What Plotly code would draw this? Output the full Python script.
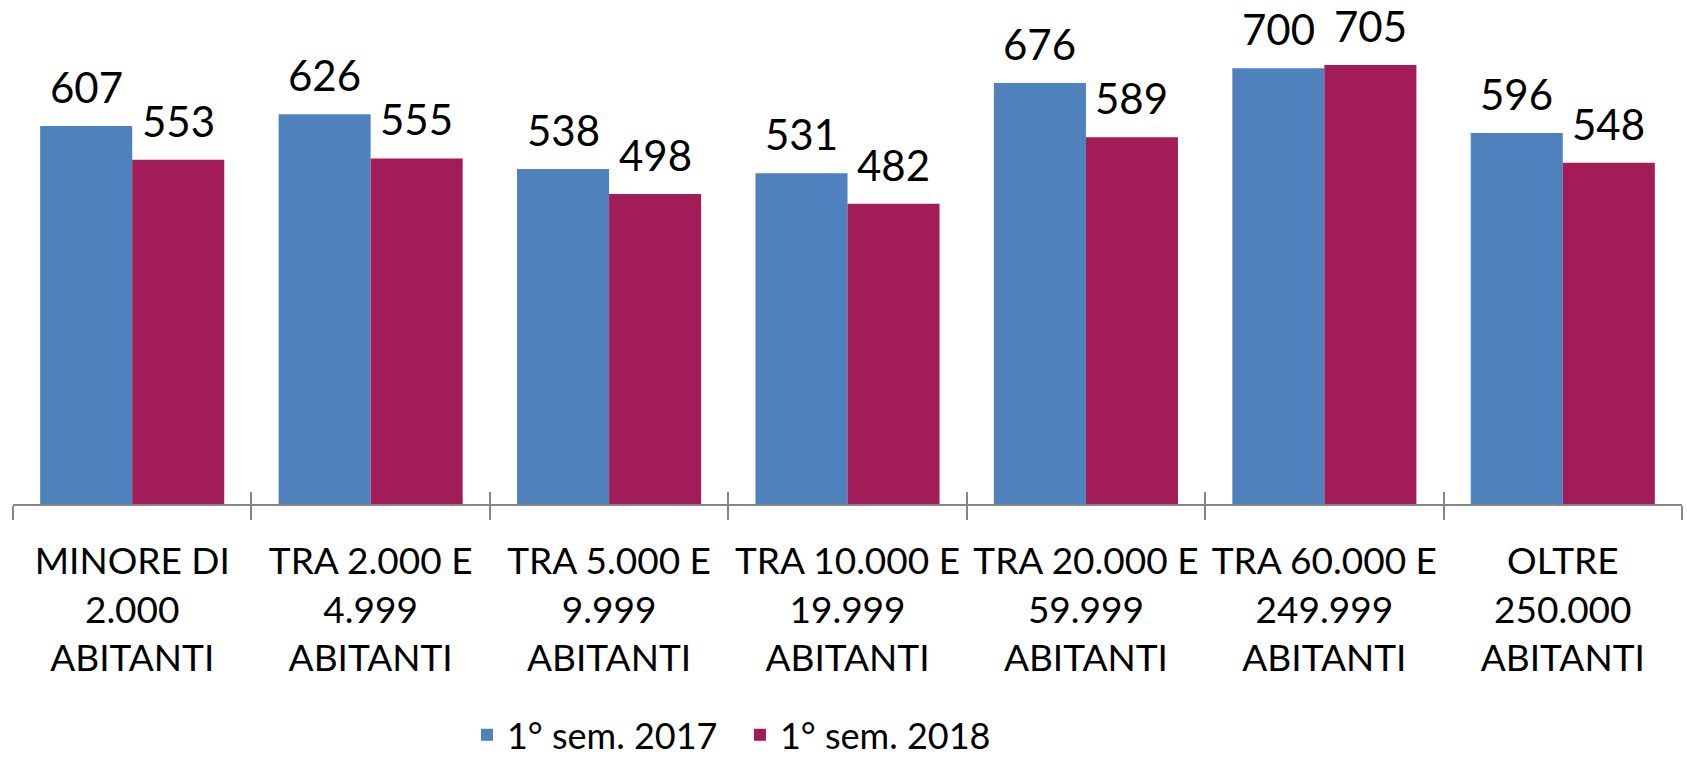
import plotly.graph_objects as go

categories = [
    "MINORE DI<br>2.000<br>ABITANTI",
    "TRA 2.000 E<br>4.999<br>ABITANTI",
    "TRA 5.000 E<br>9.999<br>ABITANTI",
    "TRA 10.000 E<br>19.999<br>ABITANTI",
    "TRA 20.000 E<br>59.999<br>ABITANTI",
    "TRA 60.000 E<br>249.999<br>ABITANTI",
    "OLTRE<br>250.000<br>ABITANTI",
]
series_names = ["1° sem. 2017", "1° sem. 2018"]
values_2017 = [607, 626, 538, 531, 676, 700, 596]
values_2018 = [553, 555, 498, 482, 589, 705, 548]

BLUE = "#4F81BD"
RED = "#A21D58"
AXIS = "#868686"
FONT = "Lato, 'Open Sans', sans-serif"

fig = go.Figure()
fig.add_trace(go.Bar(x=categories, y=values_2017, name=series_names[0],
                     marker=dict(color=BLUE, line=dict(width=0))))
fig.add_trace(go.Bar(x=categories, y=values_2018, name=series_names[1],
                     marker=dict(color=RED, line=dict(width=0))))
# invisible helper trace so the overlay axis knows the categories (upper half of tick crosses)
fig.add_trace(go.Scatter(x=categories, y=[0] * len(categories), xaxis="x2",
                         mode="markers", marker=dict(opacity=0), showlegend=False,
                         hoverinfo="skip"))

annotations = []
for vals, shift in ((values_2017, -46), (values_2018, 46)):
    for c, v in zip(categories, vals):
        annotations.append(dict(x=c, y=v, xref="x", yref="y", text=str(v),
                                showarrow=False, xshift=shift, yanchor="bottom",
                                yshift=12, font=dict(family=FONT, size=42, color="black")))

fig.update_layout(
    width=1687, height=765,
    margin=dict(l=13, r=5, t=20, b=261, autoexpand=False),
    paper_bgcolor="white", plot_bgcolor="white",
    barmode="group", bargap=0.228, bargroupgap=0,
    font=dict(family=FONT, color="black"),
    showlegend=True,
    legend=dict(orientation="h", x=0.272, xanchor="left", y=-0.539, yanchor="bottom",
                font=dict(family=FONT, size=36, color="black"),
                entrywidth=228, entrywidthmode="pixels", traceorder="normal"),
    xaxis=dict(type="category", showline=True, linecolor=AXIS, linewidth=2,
               ticks="outside", ticklen=14, tickwidth=2, tickcolor=AXIS,
               tickson="boundaries", showgrid=False, zeroline=False, automargin=False,
               ticklabelstandoff=24,
               tickfont=dict(family=FONT, size=37, color="black"), tickangle=0),
    xaxis2=dict(type="category", overlaying="x", matches="x", side="bottom",
                ticks="inside", ticklen=12, tickwidth=2, tickcolor=AXIS,
                tickson="boundaries", showticklabels=False, showline=False,
                showgrid=False, zeroline=False, automargin=False),
    yaxis=dict(range=[0, 777.3], visible=False, showgrid=False, zeroline=False,
               automargin=False),
    annotations=annotations,
)

fig.write_html("out.html", config={"displayModeBar": False},
               post_script="document.body.style.margin='0';document.body.style.overflow='hidden';")
